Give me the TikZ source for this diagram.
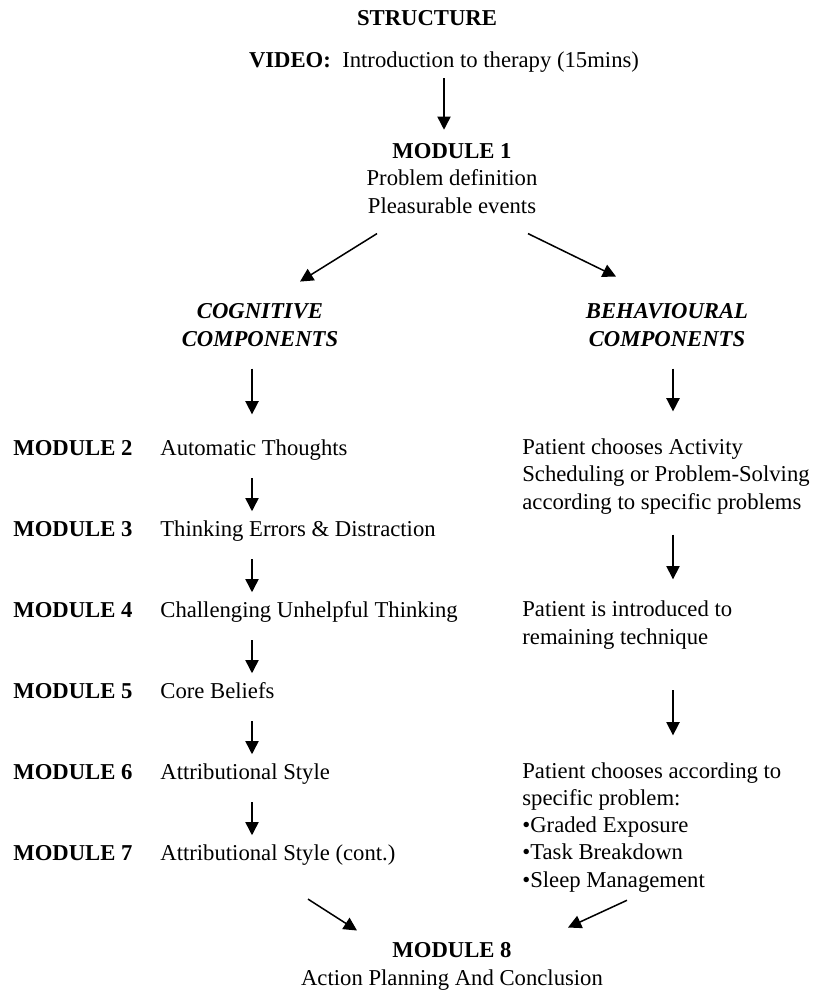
\documentclass[tikz,border=0pt]{standalone}
\usepackage{fontspec}
\setmainfont{Liberation Serif}
\usetikzlibrary{positioning,arrows.meta}
\tikzset{
  % --- text ------------------------------------------------------------------
  txt/.style={inner sep=0pt,font=\fontsize{12}{14.3}\selectfont},
  head/.style={txt,font=\fontsize{12}{14.3}\selectfont\bfseries},
  comp/.style={txt,align=center,font=\fontsize{12}{14.3}\selectfont\bfseries\itshape},
  modl/.style={head,anchor=base west,text height=0.7em,text depth=0.25em},
  desc/.style={txt,anchor=base west,text height=0.7em,text depth=0.25em},
  % multi-line nodes sit on the baseline of their last line
  rcol/.style={txt,align=left,anchor=base west},
  % --- arrows ----------------------------------------------------------------
  flow/.style={-{Triangle[length=7pt,width=7pt]},line width=0.8pt},
}
\begin{document}
\begin{tikzpicture}[x=0.529pt, y=-0.529pt]
  \useasboundingbox (0,0) rectangle (816,993);

  % header and first module
  \node[head,anchor=base] (title) at (427,26) {STRUCTURE};
  \node[txt,anchor=base]  (vid)   at (444,67)
        {\textbf{VIDEO:}\ \ Introduction to therapy (15mins)};
  \node[txt,align=center,anchor=base] (m1) at (452,213)
        {\textbf{MODULE 1}\\Problem definition\\Pleasurable events};

  % the two branches
  \node[comp,anchor=base] (cog) at (260,346) {COGNITIVE\\COMPONENTS};
  \node[comp,anchor=base] (beh) at (667,346) {BEHAVIOURAL\\COMPONENTS};

  % cognitive modules
  \foreach \k/\lbl [count=\i from 0] in {2/Automatic Thoughts,
      3/Thinking Errors \& Distraction, 4/Challenging Unhelpful Thinking,
      5/Core Beliefs, 6/Attributional Style, 7/Attributional Style (cont.)}
  {
    \node[modl] (mod\k) at (13,{455+81*\i})  {MODULE \k};
    \node[desc] (d\k)   at (160,{455+81*\i}) {\lbl};
  }

  % behavioural steps
  \node[rcol] (b1) at (522,509) {Patient chooses Activity\\
        Scheduling or Problem-Solving\\according to specific problems};
  \node[rcol] (b2) at (522,644) {Patient is introduced to\\remaining technique};
  \node[rcol] (b3) at (522,887) {Patient chooses according to\\specific problem:\\
        •Graded Exposure\\•Task Breakdown\\•Sleep Management};

  % last module
  \node[txt,align=center,anchor=base] (m8) at (452,985)
        {\textbf{MODULE 8}\\Action Planning And Conclusion};

  % arrow columns
  \coordinate (vax) at (444,0);
  \coordinate (cax) at (252,0);
  \coordinate (bax) at (673,0);

  \draw[flow,shorten <=3.2pt,shorten >=7.3pt] (vid.south -| vax) -- (m1.north -| vax);
  \draw[flow] ([shift={(-75,20)}]m1.south) -- ([shift={(40,-22)}]cog.north);
  \draw[flow] ([shift={(76,20)}]m1.south)  -- ([shift={(-51,-27)}]beh.north);

  \draw[flow,shorten <=11.6pt,shorten >=14.3pt] (cog.south -| cax) -- (d2.north -| cax);
  \draw[flow,shorten <=11.6pt,shorten >=14.5pt] (beh.south -| bax) -- (b1.north -| bax);

  \foreach \a/\b in {2/3,3/4,4/5,5/6,6/7}
    \draw[flow,shorten <=9.7pt,shorten >=5.9pt] (d\a.south -| cax) -- (d\b.north -| cax);

  \draw[flow,shorten <=10.8pt,shorten >=11.4pt] (b1.south -| bax) -- (b2.north -| bax);
  \draw[flow,shorten <=21.7pt,shorten >=14.5pt] (b2.south -| bax) -- (b3.north -| bax);

  \draw[flow] ([shift={(148,34)}]d7.south west) -- ([shift={(-95,-12)}]m8.north);
  \draw[flow] ([shift={(105,8)}]b3.south west)  -- ([shift={(116,-15)}]m8.north);
\end{tikzpicture}
\end{document}
